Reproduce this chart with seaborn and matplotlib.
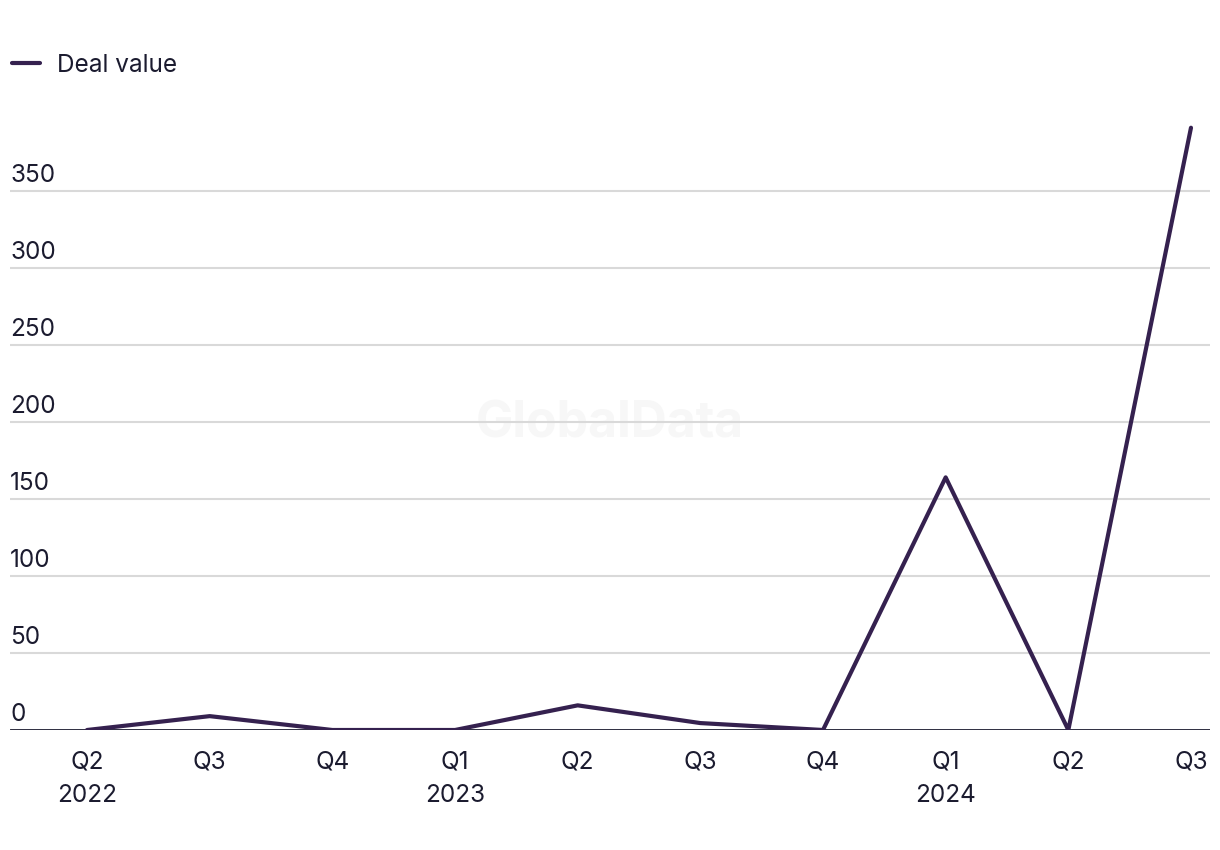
import matplotlib.pyplot as plt
import seaborn as sns
import pandas as pd

# data
quarters = ["Q2\n2022", "Q3", "Q4", "Q1\n2023", "Q2", "Q3", "Q4", "Q1\n2024", "Q2", "Q3"]
deal_value = [0, 9, 0, 0, 16, 4.5, 0, 164, 0, 391]
y_ticks = [0, 50, 100, 150, 200, 250, 300, 350]

line_color = "#35214f"
text_color = "#1b1b2f"
grid_color = "#d9d9d9"
fs = 17.5

sns.set_theme(style="white")
plt.rcParams['font.family'] = ['Inter', 'DejaVu Sans']

df = pd.DataFrame({"pos": range(len(quarters)), "value": deal_value})

fig = plt.figure(figsize=(12.2, 8.5), dpi=100)
ax = fig.add_axes([10 / 1220, 120 / 850, 1200 / 1220, 630 / 850])

# gridlines and baseline
for v in y_ticks[1:]:
    ax.axhline(v, color=grid_color, lw=1.5, zorder=1)
ax.axhline(0, color=text_color, lw=2, zorder=2)

# watermark
ax.text(0.5, 0.485, "GlobalData", transform=ax.transAxes, ha="center", va="center",
        fontsize=36, fontweight="bold", color="#f7f7f7", zorder=0)

sns.lineplot(data=df, x="pos", y="value", ax=ax, color=line_color, lw=3,
             label="Deal value", zorder=3)

ax.set_xlim(-0.628, 9.155)
ax.set_ylim(0, 409)
ax.set_xticks(df["pos"])
ax.set_xticklabels(quarters, fontsize=fs, color=text_color, linespacing=1.58)
ax.tick_params(axis="x", length=0, pad=15)
ax.set_yticks([])
ax.set_xlabel("")
ax.set_ylabel("")
for s in ax.spines.values():
    s.set_visible(False)

# y labels sit above their gridline at the left edge
for v in y_ticks:
    ax.annotate(str(v), xy=(0, v), xycoords=("axes fraction", "data"),
                xytext=(0, 3), textcoords="offset points",
                ha="left", va="bottom", fontsize=fs, color=text_color)

leg = ax.legend(loc="upper left", bbox_to_anchor=(-10 / 1220, 1 - 32 / 850),
                bbox_transform=fig.transFigure, frameon=False, fontsize=fs,
                handlelength=1.15, handletextpad=0.7)
for t in leg.get_texts():
    t.set_color(text_color)

fig.savefig("out.png", dpi=100, facecolor="white")
